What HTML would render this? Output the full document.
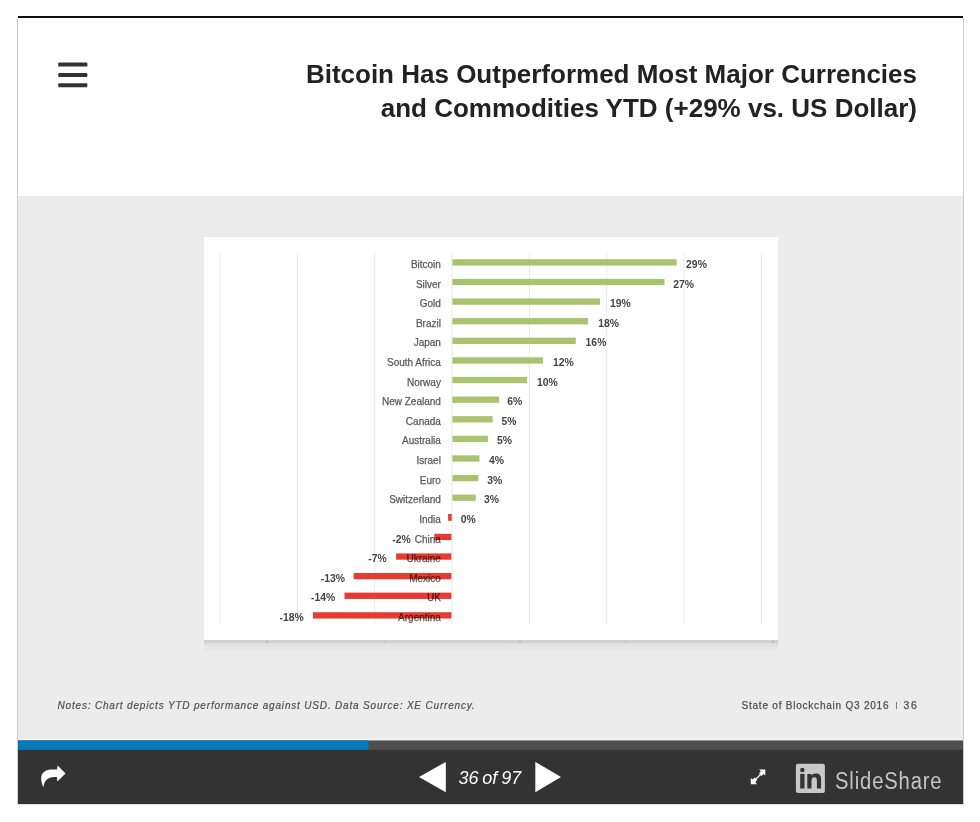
<!DOCTYPE html>
<html><head><meta charset="utf-8">
<style>
html,body{margin:0;padding:0;background:#fff;width:980px;height:822px;overflow:hidden;position:relative;font-family:"Liberation Sans",sans-serif;}
.a{position:absolute;}
#topline{left:18px;top:16px;width:945px;height:2px;background:#111;}
#lb{left:17px;top:18px;width:1px;height:786px;background:#cdcdcd;}
#rb{left:963px;top:18px;width:1px;height:786px;background:#cdcdcd;}
#gray{left:18px;top:196px;width:945px;height:544px;background:#ececec;}
#prog{left:18px;top:740px;width:945px;height:10px;background:#4b4b4b;}
#progb{left:18px;top:740px;width:351px;height:10px;background:#0378b6;}
#ctrl{left:18px;top:749px;width:945px;height:55px;background:#333;}
#bb{left:17px;top:804px;width:947px;height:1px;background:#e0e0e0;}
#title{right:63px;top:58.2px;width:800px;text-align:right;font-weight:bold;font-size:26px;line-height:33.6px;color:#222;}
#notes{left:57.5px;top:699.6px;font-size:10px;line-height:12px;font-style:italic;color:#505050;white-space:nowrap;letter-spacing:0.82px;-webkit-text-stroke:0.2px #505050;}
#src{left:741.5px;top:698.9px;font-size:10px;line-height:12px;color:#505050;white-space:nowrap;letter-spacing:0.78px;-webkit-text-stroke:0.25px #505050;}
#chart{left:204px;top:237px;width:574px;height:403px;background:#fff;}
#shadow{left:204px;top:640px;width:574px;height:12px;background:linear-gradient(#d0d0d0 0px,#d0d0d0 2.5px,#dedede 3.5px,#e6e6e6 7px,#eaeaea 12px);}
#pg{left:458.5px;top:768px;word-spacing:-1.2px;font-size:18px;font-style:italic;color:#fff;white-space:nowrap;}
#ss{left:835.2px;top:767.6px;font-size:23.5px;letter-spacing:1px;color:#c4c4c4;transform:scaleX(0.86);transform-origin:0 0;white-space:nowrap;}
</style></head><body>
<div class="a" id="topline"></div>
<div class="a" id="lb"></div>
<div class="a" id="rb"></div>
<div class="a" id="gray"></div>


<div class="a" id="ctrl"></div>
<svg class="a" style="left:0;top:0" width="980" height="822"><rect x="18" y="739.2" width="945" height="1.3" fill="#f8f8f8"/><rect x="18" y="740.4" width="945" height="9.4" fill="#4e4e4e"/><rect x="18" y="740.4" width="350.5" height="9.4" fill="#047ab8"/></svg>
<div class="a" id="bb"></div>

<svg class="a" style="left:0;top:0" width="980" height="822">
  <g fill="#333">
    <rect x="58.2" y="62.5" width="29.2" height="4.1" rx="1.2"/>
    <rect x="58.2" y="72.9" width="29.2" height="4.1" rx="1.2"/>
    <rect x="58.2" y="83.2" width="29.2" height="4.1" rx="1.2"/>
  </g>
</svg>

<div class="a" id="title">Bitcoin Has Outperformed Most Major Currencies<br>and Commodities YTD (+29% vs. US Dollar)</div>

<div class="a" id="chart"></div>
<div class="a" id="shadow"></div><div class="a" style="left:266px;top:640.5px;width:1.5px;height:2px;background:#b8b8b8"></div><div class="a" style="left:383.5px;top:640.5px;width:1.5px;height:2px;background:#b8b8b8"></div><div class="a" style="left:519px;top:640.5px;width:1.5px;height:2px;background:#b8b8b8"></div><div class="a" style="left:624.5px;top:640.5px;width:1.5px;height:2px;background:#b8b8b8"></div><div class="a" style="left:772px;top:640.5px;width:1.5px;height:2px;background:#b8b8b8"></div>
<!--CHART-->
<svg class="a" style="left:0;top:0" width="980" height="822">
<g fill="#e9e9eb">
<rect x="219.5" y="253.5" width="1" height="371"/>
<rect x="296.9" y="253.5" width="1" height="371"/>
<rect x="374.2" y="253.5" width="1" height="371"/>
<rect x="451.5" y="253.5" width="1" height="371"/>
<rect x="528.9" y="253.5" width="1" height="371"/>
<rect x="606.2" y="253.5" width="1" height="371"/>
<rect x="683.6" y="253.5" width="1" height="371"/>
<rect x="760.9" y="253.5" width="1" height="371"/>
</g>
<rect x="452.4" y="259.25" width="224.3" height="6.3" fill="#a8c46e"/>
<rect x="452.4" y="278.86" width="212.1" height="6.3" fill="#a8c46e"/>
<rect x="452.4" y="298.47" width="147.6" height="6.3" fill="#a8c46e"/>
<rect x="452.4" y="318.08" width="135.6" height="6.3" fill="#a8c46e"/>
<rect x="452.4" y="337.69" width="123.4" height="6.3" fill="#a8c46e"/>
<rect x="452.4" y="357.30" width="90.6" height="6.3" fill="#a8c46e"/>
<rect x="452.4" y="376.91" width="74.7" height="6.3" fill="#a8c46e"/>
<rect x="452.4" y="396.52" width="46.6" height="6.3" fill="#a8c46e"/>
<rect x="452.4" y="416.13" width="40.3" height="6.3" fill="#a8c46e"/>
<rect x="452.4" y="435.74" width="35.5" height="6.3" fill="#a8c46e"/>
<rect x="452.4" y="455.35" width="27.0" height="6.3" fill="#a8c46e"/>
<rect x="452.4" y="474.96" width="26.0" height="6.3" fill="#a8c46e"/>
<rect x="452.4" y="494.57" width="23.3" height="6.3" fill="#a8c46e"/>
<rect x="448.1" y="513.93" width="3.6" height="6.9" fill="#e63b30"/>
<rect x="434.3" y="533.79" width="17.1" height="6.3" fill="#e63b30"/>
<rect x="396.1" y="553.40" width="55.3" height="6.3" fill="#e63b30"/>
<rect x="353.7" y="573.01" width="97.7" height="6.3" fill="#e63b30"/>
<rect x="344.5" y="592.62" width="106.9" height="6.3" fill="#e63b30"/>
<rect x="312.9" y="612.23" width="138.5" height="6.3" fill="#e63b30"/>
<g font-size="10" fill="#5a5a5a" stroke="#5a5a5a" stroke-width="0.25" text-anchor="end" style="mix-blend-mode:multiply">
<text x="440.9" y="268.00">Bitcoin</text>
<text x="440.9" y="287.61">Silver</text>
<text x="440.9" y="307.22">Gold</text>
<text x="440.9" y="326.83">Brazil</text>
<text x="440.9" y="346.44">Japan</text>
<text x="440.9" y="366.05">South Africa</text>
<text x="440.9" y="385.66">Norway</text>
<text x="440.9" y="405.27">New Zealand</text>
<text x="440.9" y="424.88">Canada</text>
<text x="440.9" y="444.49">Australia</text>
<text x="440.9" y="464.10">Israel</text>
<text x="440.9" y="483.71">Euro</text>
<text x="440.9" y="503.32">Switzerland</text>
<text x="440.9" y="522.93">India</text>
<text x="440.9" y="542.54">China</text>
<text x="440.9" y="562.15">Ukraine</text>
<text x="440.9" y="581.76">Mexico</text>
<text x="440.9" y="601.37">UK</text>
<text x="440.9" y="620.98">Argentina</text>
</g>
<g font-size="10.4" font-weight="bold" fill="#444">
<text x="686.1" y="268.00">29%</text>
<text x="673.3" y="287.61">27%</text>
<text x="610.0" y="307.22">19%</text>
<text x="598.2" y="326.83">18%</text>
<text x="585.6" y="346.44">16%</text>
<text x="552.9" y="366.05">12%</text>
<text x="536.9" y="385.66">10%</text>
<text x="507.2" y="405.27">6%</text>
<text x="501.5" y="424.88">5%</text>
<text x="497.1" y="444.49">5%</text>
<text x="488.9" y="464.10">4%</text>
<text x="487.3" y="483.71">3%</text>
<text x="484.1" y="503.32">3%</text>
<text x="460.7" y="522.93">0%</text>
<text x="410.8" y="542.54" text-anchor="end">-2%</text>
<text x="386.7" y="562.15" text-anchor="end">-7%</text>
<text x="345.1" y="581.76" text-anchor="end">-13%</text>
<text x="335.3" y="601.37" text-anchor="end">-14%</text>
<text x="303.7" y="620.98" text-anchor="end">-18%</text>
</g>
</svg>
<!--/CHART-->

<div class="a" id="notes">Notes: Chart depicts YTD performance against USD. Data Source: XE Currency.</div>
<div class="a" id="src">State of Blockchain Q3 2016 &nbsp;<span style="display:inline-block;width:1px;height:7px;background:#808080;vertical-align:0px;margin-right:2.6px"></span> <span style="letter-spacing:1.6px;font-size:10.5px">36</span></div>

<svg class="a" style="left:0;top:0" width="980" height="822">
  <!-- share -->
  <path fill="#fff" d="M65.5 773.4 L57.6 765.5 L57 769.4 L50.5 769.5 C45.5 769.8 41.4 772.8 41.2 777.8 C41.1 781 42 784.4 43.3 787.3 C43.9 783 45.2 780 48.3 778.4 C50.3 777.4 53 777.1 56.9 777.1 L57.4 781.5 Z"/>
  <!-- prev/next -->
  <path fill="#fff" d="M419 777.1 L445.8 761.9 L445.8 792.2 Z"/>
  <path fill="#fff" d="M561 777.1 L535.3 761.9 L535.3 792.2 Z"/>
  <!-- fullscreen -->
  <line x1="756" y1="779" x2="760.5" y2="774.5" stroke="#fff" stroke-width="1.5" opacity="0.9"/>
  <path fill="#fff" d="M750.8 778 L752.6 779.6 L754.8 777.6 L757.2 780 L755.3 782.2 L757.2 784.2 L750.8 784.2 Z"/>
  <path fill="#fff" d="M765.3 775.6 L763.6 774 L761.4 776 L759 773.6 L760.9 771.4 L759.2 769.4 L765.3 769.4 Z"/>
  <!-- linkedin -->
  <rect x="795.9" y="763.7" width="29" height="29.3" rx="2" fill="#c8c8c8"/>
  <g fill="#333">
    <rect x="800.2" y="773.9" width="4.3" height="14.6"/>
    <circle cx="802.35" cy="770" r="2.2"/>
    <path d="M807.3 773.9 H811.5 V775.8 C812.5 774.3 814 773.6 816 773.6 C819.5 773.6 821.1 775.6 821.1 779.5 V788.5 H816.9 V780.3 C816.9 778.3 816.1 777.3 814.4 777.3 C812.6 777.3 811.5 778.5 811.5 780.6 V788.5 H807.3 Z"/>
  </g>
</svg>
<div class="a" id="pg">36 of 97</div>
<div class="a" id="ss">SlideShare</div>
</body></html>
